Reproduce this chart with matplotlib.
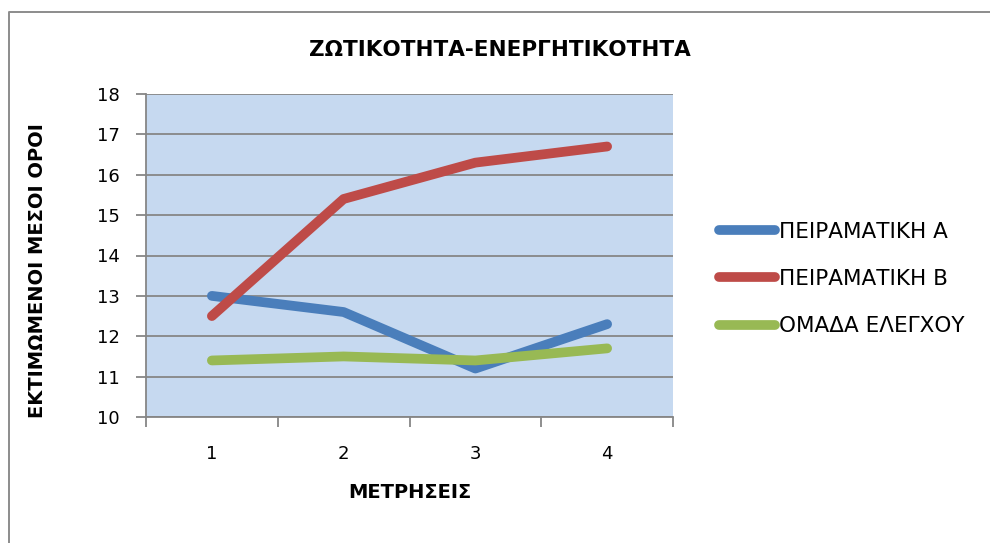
import matplotlib.pyplot as plt
from matplotlib.lines import Line2D
from matplotlib.ticker import FixedLocator, NullFormatter

plt.rcParams['font.family'] = ['DejaVu Sans']

mesures = [1, 2, 3, 4]
peiramatiki_a = [13.0, 12.6, 11.2, 12.3]
peiramatiki_b = [12.5, 15.4, 16.3, 16.7]
omada_elegxou = [11.4, 11.5, 11.4, 11.7]
noms = ['ΠΕΙΡΑΜΑΤΙΚΗ Α', 'ΠΕΙΡΑΜΑΤΙΚΗ Β', 'ΟΜΑΔΑ ΕΛΕΓΧΟΥ']
couleurs = ['#4A7EBB', '#BE4B48', '#98B954']

fig = plt.figure(figsize=(9.9, 5.43), dpi=100)
ax = fig.add_axes([146/990, 1-417/543, (673-146)/990, (417-94)/543])
ax.set_facecolor('#C6D9F0')

for serie, nom, c in zip([peiramatiki_a, peiramatiki_b, omada_elegxou], noms, couleurs):
    ax.plot(mesures, serie, color=c, lw=7, solid_capstyle='round', solid_joinstyle='round', label=nom)

ax.set_xlim(0.5, 4.5)
ax.set_ylim(10, 18)
ax.set_yticks(range(10, 19))
ax.yaxis.grid(True, color='#868686', lw=1.3)
ax.set_axisbelow(True)

# ticks de categories: traits aux bornes, etiquettes au centre
ax.xaxis.set_major_locator(FixedLocator([0.5, 1.5, 2.5, 3.5, 4.5]))
ax.xaxis.set_major_formatter(NullFormatter())
ax.xaxis.set_minor_locator(FixedLocator(mesures))
ax.set_xticklabels([str(m) for m in mesures], minor=True)
ax.tick_params(axis='x', which='major', length=7, color='#868686', width=1.3)
ax.tick_params(axis='x', which='minor', length=0, labelsize=13, pad=20)
ax.tick_params(axis='y', length=7, color='#868686', width=1.3, labelsize=13, pad=12)

for s in ['top', 'right']:
    ax.spines[s].set_visible(False)
for s in ['left', 'bottom']:
    ax.spines[s].set_color('#868686')
    ax.spines[s].set_linewidth(1.3)

fig.text(500/990, 1-50/543, 'ΖΩΤΙΚΟΤΗΤΑ-ΕΝΕΡΓΗΤΙΚΟΤΗΤΑ', ha='center', va='center',
         fontsize=15.5, fontweight='bold')
fig.text(410/990, 1-492/543, 'ΜΕΤΡΗΣΕΙΣ', ha='center', va='center', fontsize=14, fontweight='bold')
fig.text(38/990, 1-271/543, 'ΕΚΤΙΜΩΜΕΝΟΙ ΜΕΣΟΙ ΟΡΟΙ', ha='center', va='center', rotation=90,
         fontsize=14, fontweight='bold')

leg = fig.legend(loc='center left', bbox_to_anchor=(700/990, 1-279/543), frameon=False,
                 fontsize=15.5, handlelength=2.6, handletextpad=0.15, labelspacing=1.27)

# bordure de la zone de graphique (seulement haut et gauche visibles)
fig.lines.append(Line2D([8.5/990, 8.5/990, 1], [0, 1-11.5/543, 1-11.5/543],
                        transform=fig.transFigure, color='#8C8C8C', lw=1.4))

fig.savefig('out.png', dpi=100)
